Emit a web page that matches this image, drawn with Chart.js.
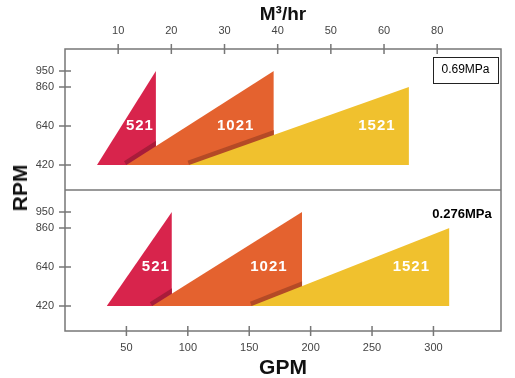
<!DOCTYPE html>
<html>
<head>
<meta charset="utf-8">
<script src="https://cdn.jsdelivr.net/npm/chart.js@4.4.1/dist/chart.umd.min.js"></script>
<style>
  html, body { margin: 0; padding: 0; background: #fff; }
  #wrap { position: relative; width: 515px; height: 378px; }
  #rpm {
    position: absolute; left: 20px; top: 188px;
    transform: translate(-50%, -50%) rotate(-90deg);
    font: bold 21px "Liberation Sans", Arial, sans-serif; color: #111;
  }
</style>
</head>
<body>
<div id="wrap">
  <canvas id="c" width="515" height="378"></canvas>
  <div id="rpm">RPM</div>
</div>
<script>
// pump models, one triangle each
const models = ['521', '1021', '1521'];
const fills = ['#d8244c', '#e4622f', '#f0c12e'];
const shades = ['#a81c3a', '#b44a26', '#c99a1e'];

// 0.69 MPa panel: flow range in GPM and top speed
const hiStart = [26, 50, 101];
const hiEnd = [74, 170, 280];
const hiTop = [950, 950, 860];
const hiLabelAt = [61, 139, 254];

// 0.276 MPa panel
const loStart = [34, 71, 152];
const loEnd = [87, 193, 313];
const loTop = [950, 950, 860];
const loLabelAt = [74, 166, 282];

const baseRpm = 420;
const labelRpm = 640;
const rpmTicks = [420, 640, 860, 950];
const gpmTicks = [50, 100, 150, 200, 250, 300];
const m3Ticks = [10, 20, 30, 40, 50, 60, 70];
const m3Labels = ['10', '20', '30', '40', '50', '60', '80'];

const FONT = '"Liberation Sans", Arial, sans-serif';

function panel(starts, ends, tops, axis) {
  return models.map((m, i) => ({
    label: m,
    data: [{x: starts[i], y: baseRpm}, {x: ends[i], y: tops[i]}],
    fill: {value: baseRpm},
    backgroundColor: fills[i],
    borderColor: 'transparent',
    borderWidth: 0,
    pointRadius: 0,
    order: 3 - i,
    yAxisID: axis,
    xAxisID: 'x',
    shade: shades[i]
  }));
}

const datasets = [...panel(hiStart, hiEnd, hiTop, 'yTop'), ...panel(loStart, loEnd, loTop, 'yBot')];
// each triangle gets a dark band along the next one's edge
datasets.forEach((d, i) => { if (i % 3 < 2) d.next = i + 1; });

function triPath(ctx, pts) {
  const [a, b] = pts;
  ctx.beginPath();
  ctx.moveTo(a.x, a.y);
  ctx.lineTo(b.x, b.y);
  ctx.lineTo(b.x, a.y);
  ctx.closePath();
}

const shadePlugin = {
  id: 'shade',
  afterDatasetDraw(chart, args) {
    const ds = chart.data.datasets[args.index];
    if (ds.next === undefined) return;
    const ctx = chart.ctx;
    const nxt = chart.getDatasetMeta(ds.next).data;
    ctx.save();
    triPath(ctx, args.meta.data);
    ctx.clip();
    ctx.strokeStyle = ds.shade;
    ctx.lineWidth = 9;
    ctx.beginPath();
    ctx.moveTo(nxt[0].x, nxt[0].y);
    ctx.lineTo(nxt[1].x, nxt[1].y);
    ctx.stroke();
    ctx.restore();
  }
};

const framePlugin = {
  id: 'frame',
  afterDatasetsDraw(chart) {
    const {ctx, chartArea: ca, scales} = chart;
    ctx.save();
    // model labels
    ctx.fillStyle = '#fff';
    ctx.font = 'bold 15px ' + FONT;
    ctx.textAlign = 'center';
    ctx.textBaseline = 'middle';
    ctx.letterSpacing = '1px';
    models.forEach((m, i) => {
      ctx.fillText(m, scales.x.getPixelForValue(hiLabelAt[i]), scales.yTop.getPixelForValue(labelRpm));
      ctx.fillText(m, scales.x.getPixelForValue(loLabelAt[i]), scales.yBot.getPixelForValue(labelRpm));
    });
    ctx.letterSpacing = '0px';

    // box and divider
    ctx.strokeStyle = '#777';
    ctx.lineWidth = 1.5;
    ctx.strokeRect(ca.left, ca.top, ca.right - ca.left, ca.bottom - ca.top);
    const mid = scales.yTop.bottom;
    ctx.beginPath();
    ctx.moveTo(ca.left, mid);
    ctx.lineTo(ca.right, mid);
    ctx.stroke();

    ctx.beginPath();
    gpmTicks.forEach(v => {
      const px = scales.x.getPixelForValue(v);
      ctx.moveTo(px, ca.bottom - 5); ctx.lineTo(px, ca.bottom + 5);
    });
    m3Ticks.forEach(v => {
      const px = scales.xTop.getPixelForValue(v);
      ctx.moveTo(px, ca.top - 5); ctx.lineTo(px, ca.top + 5);
    });
    ['yTop', 'yBot'].forEach(id => {
      rpmTicks.forEach(v => {
        const py = scales[id].getPixelForValue(v);
        ctx.moveTo(ca.left - 6, py); ctx.lineTo(ca.left + 6, py);
      });
    });
    ctx.stroke();

    // pressure notes
    ctx.fillStyle = '#000';
    ctx.textAlign = 'center';
    ctx.font = '12px ' + FONT;
    const bx = ca.right - 68, by = scales.yTop.top + 8;
    ctx.fillText('0.69MPa', bx + 32.5, by + 13);
    ctx.strokeStyle = '#222';
    ctx.lineWidth = 1;
    ctx.strokeRect(bx + 0.5, by + 0.5, 65, 26);
    ctx.font = 'bold 13px ' + FONT;
    ctx.fillText('0.276MPa', ca.right - 39, scales.yBot.top + 24);
    ctx.restore();
  }
};

const tickFont = {family: FONT, size: 11};
const yAxis = {
  type: 'linear',
  position: 'left',
  stack: 'rpm',
  stackWeight: 1,
  min: 279,
  max: 1074,
  grid: {display: false, drawTicks: false},
  border: {display: false},
  afterBuildTicks: s => { s.ticks = rpmTicks.map(v => ({value: v})); },
  afterFit: s => { s.width = 65; },
  ticks: {color: '#444', font: tickFont, padding: 11}
};

new Chart(document.getElementById('c'), {
  type: 'line',
  data: {datasets},
  options: {
    responsive: false,
    animation: false,
    layout: {padding: {left: 0, right: 14, top: 0, bottom: 0}},
    plugins: {legend: {display: false}, tooltip: {enabled: false}},
    scales: {
      x: {
        type: 'linear',
        position: 'bottom',
        min: 0,
        max: 355,
        grid: {display: false, drawTicks: false},
        border: {display: false},
        afterBuildTicks: s => { s.ticks = gpmTicks.map(v => ({value: v})); },
        afterFit: s => { s.height = 47; },
        ticks: {color: '#444', font: tickFont, padding: 10},
        title: {display: true, text: 'GPM', color: '#111', font: {family: FONT, size: 21, weight: 'bold'}, padding: {top: 0, bottom: -3}}
      },
      xTop: {
        type: 'linear',
        position: 'top',
        min: 0,
        max: 82,
        grid: {display: false, drawTicks: false},
        border: {display: false},
        afterBuildTicks: s => { s.ticks = m3Ticks.map(v => ({value: v})); },
        afterFit: s => { s.height = 49; },
        ticks: {color: '#444', font: tickFont, padding: 11, callback: (v, i) => m3Labels[i]},
        title: {display: true, text: 'M³/hr', color: '#111', font: {family: FONT, size: 19, weight: 'bold'}, padding: {top: 3, bottom: 0}}
      },
      // stacked axes: the one listed last is placed on top
      yBot: {...yAxis},
      yTop: {...yAxis}
    }
  },
  plugins: [shadePlugin, framePlugin]
});
</script>
</body>
</html>
